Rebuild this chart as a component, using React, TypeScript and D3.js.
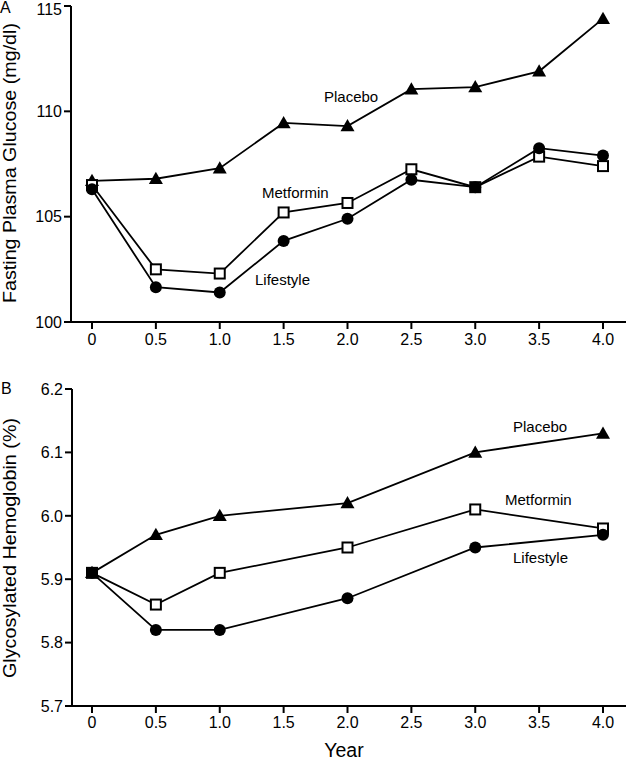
import React from "react";
import * as d3 from "d3";

const yearsA = [0, 0.5, 1.0, 1.5, 2.0, 2.5, 3.0, 3.5, 4.0];
const placeboA = [106.7, 106.8, 107.3, 109.45, 109.3, 111.05, 111.15, 111.9, 114.4];
const metforminA = [106.5, 102.5, 102.3, 105.2, 105.65, 107.25, 106.4, 107.85, 107.4];
const lifestyleA = [106.3, 101.65, 101.4, 103.85, 104.9, 106.75, 106.4, 108.25, 107.9];

const yearsB = [0, 0.5, 1.0, 2.0, 3.0, 4.0];
const placeboB = [5.91, 5.97, 6.0, 6.02, 6.1, 6.13];
const metforminB = [5.91, 5.86, 5.91, 5.95, 6.01, 5.98];
const lifestyleB = [5.91, 5.82, 5.82, 5.87, 5.95, 5.97];

const xTicks = [0, 0.5, 1.0, 1.5, 2.0, 2.5, 3.0, 3.5, 4.0];
const xTickLabels = ["0", "0.5", "1.0", "1.5", "2.0", "2.5", "3.0", "3.5", "4.0"];
const yTicksA = [100, 105, 110, 115];
const yTickLabelsA = ["100", "105", "110", "115"];
const yTicksB = [5.7, 5.8, 5.9, 6.0, 6.1, 6.2];
const yTickLabelsB = ["5.7", "5.8", "5.9", "6.0", "6.1", "6.2"];

const FONT = "'Liberation Sans', Arial, Helvetica, sans-serif";

type Marker = "triangle" | "square" | "circle";

function MarkerShape({ type, x, y }: { type: Marker; x: number; y: number }) {
  if (type === "triangle") {
    const s = 7;
    return (
      <path
        d={`M${x},${y - s}L${x + s},${y + s * 0.75}L${x - s},${y + s * 0.75}Z`}
        fill="#000"
      />
    );
  }
  if (type === "square") {
    return (
      <rect x={x - 5} y={y - 5} width={10} height={10} fill="#fff" stroke="#000" strokeWidth={2} />
    );
  }
  return <circle cx={x} cy={y} r={6} fill="#000" />;
}

function Panel({
  letter,
  yDomain,
  yRange,
  yTicks,
  yTickLabels,
  years,
  series,
  title,
  titleY,
  titleLen,
  labels,
  axisX,
  tickLabelDy,
}: any) {
  const x = d3.scaleLinear().domain([0, 4]).range([92, 603]);
  const y = d3.scaleLinear().domain(yDomain).range(yRange);
  const line = d3
    .line<number>()
    .x((_, i) => x(years[i]))
    .y((d) => y(d));
  const bottom = yRange[0];
  const top = yRange[1];
  return (
    <g>
      <text x={letter.x} y={letter.y} fontSize={16} fontFamily={FONT}>
        {letter.text}
      </text>
      {/* y axis */}
      <line x1={axisX} x2={axisX} y1={top} y2={bottom + 1} stroke="#000" strokeWidth={2} />
      {yTicks.map((t: number, i: number) => (
        <g key={"yt" + i}>
          <line x1={axisX - 7} x2={axisX} y1={y(t)} y2={y(t)} stroke="#000" strokeWidth={2} />
          <text
            x={axisX - 9}
            y={Math.max(y(t), 9.5)}
            dy="0.36em"
            textAnchor="end"
            fontSize={16}
            fontFamily={FONT}
          >
            {yTickLabels[i]}
          </text>
        </g>
      ))}
      {/* x axis */}
      <line x1={axisX - 1} x2={626} y1={bottom} y2={bottom} stroke="#000" strokeWidth={2} />
      {xTicks.map((t: number, i: number) => (
        <g key={"xt" + i}>
          <line x1={x(t)} x2={x(t)} y1={bottom} y2={bottom + 7} stroke="#000" strokeWidth={2} />
          <text
            x={x(t)}
            y={bottom + tickLabelDy}
            textAnchor="middle"
            fontSize={16}
            fontFamily={FONT}
          >
            {xTickLabels[i]}
          </text>
        </g>
      ))}
      <text
        transform={`translate(16,${titleY}) rotate(-90)`}
        textAnchor="middle"
        fontSize={18}
        fontFamily={FONT}
        textLength={titleLen}
        lengthAdjust="spacingAndGlyphs"
      >
        {title}
      </text>
      {series.map((s: any, si: number) => (
        <path key={"l" + si} d={line(s.values) || ""} fill="none" stroke="#000" strokeWidth={1.8} />
      ))}
      {series.map((s: any, si: number) =>
        s.values.map((v: number, i: number) => (
          <MarkerShape key={"m" + si + "-" + i} type={s.marker} x={x(years[i])} y={y(v)} />
        ))
      )}
      {labels.map((l: any, i: number) => (
        <text key={"lab" + i} x={l.x} y={l.y} fontSize={15} fontFamily={FONT}>
          {l.text}
        </text>
      ))}
    </g>
  );
}

export default function App() {
  return (
    <svg
      width={626}
      height={761}
      style={{ position: "absolute", left: 0, top: 0, background: "#fff" }}
    >
      <rect width={626} height={761} fill="#fff" />
      <Panel
        letter={{ text: "A", x: 0, y: 13 }}
        yDomain={[100, 115]}
        yRange={[322, 6]}
        yTicks={yTicksA}
        yTickLabels={yTickLabelsA}
        years={yearsA}
        axisX={71}
        tickLabelDy={23}
        series={[
          { values: placeboA, marker: "triangle" },
          { values: metforminA, marker: "square" },
          { values: lifestyleA, marker: "circle" },
        ]}
        title="Fasting Plasma Glucose (mg/dl)"
        titleY={163}
        titleLen={280}
        labels={[
          { text: "Placebo", x: 324, y: 102 },
          { text: "Metformin", x: 262, y: 198 },
          { text: "Lifestyle", x: 255, y: 285 },
        ]}
      />
      <Panel
        letter={{ text: "B", x: 1, y: 394 }}
        yDomain={[5.7, 6.2]}
        yRange={[706, 389]}
        yTicks={yTicksB}
        yTickLabels={yTickLabelsB}
        years={yearsB}
        axisX={72}
        tickLabelDy={22}
        series={[
          { values: placeboB, marker: "triangle" },
          { values: metforminB, marker: "square" },
          { values: lifestyleB, marker: "circle" },
        ]}
        title="Glycosylated Hemoglobin (%)"
        titleY={548}
        titleLen={260}
        labels={[
          { text: "Placebo", x: 513, y: 432 },
          { text: "Metformin", x: 505, y: 505 },
          { text: "Lifestyle", x: 513, y: 563 },
        ]}
      />
      <text x={344} y={757} textAnchor="middle" fontSize={19.5} fontFamily={FONT}>
        Year
      </text>
    </svg>
  );
}
